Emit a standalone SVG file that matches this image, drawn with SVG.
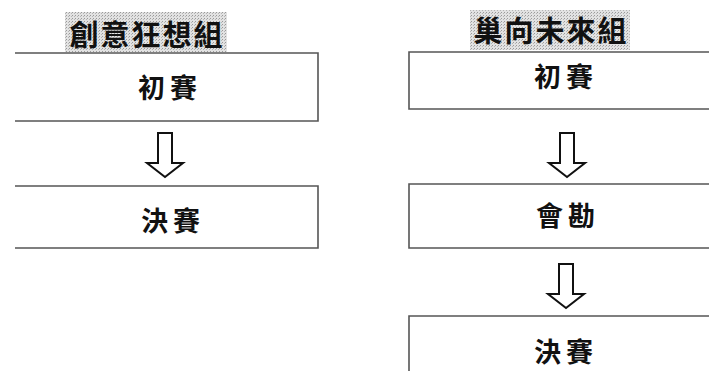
<svg xmlns="http://www.w3.org/2000/svg" width="709" height="371" viewBox="0 0 709 371">
<defs>
<pattern id="dots" width="3" height="3" patternUnits="userSpaceOnUse">
<rect width="3" height="3" fill="#e2e2e2"/>
<rect width="1" height="1" fill="#9a9a9a"/>
<rect x="2" y="1" width="1" height="1" fill="#b5b5b5"/>
</pattern>
<path id="arrow" d="M-7,0 H7 V30 H18 L0,44 L-18,30 H-7 Z"/>
</defs>
<style>
.box{fill:none;stroke:#555;stroke-width:1.6}
.title{fill:url(#dots)}
.t{font-family:"Noto Sans CJK TC","Noto Sans CJK SC",sans-serif;font-weight:bold;fill:#111;text-anchor:middle;dominant-baseline:central}
.tt{font-size:29px;letter-spacing:2px}
.tb{font-size:27px;letter-spacing:5px}
.arr{fill:#fff;stroke:#111;stroke-width:2;stroke-linejoin:miter}
</style>
<rect width="709" height="371" fill="#fff"/>
<g id="title-left">
<rect class="title" x="65" y="12" width="162" height="40"/>
<text class="t tt" x="147" y="33">創意狂想組</text>
</g>
<g id="title-right">
<rect class="title" x="470" y="10" width="160" height="40"/>
<text class="t tt" x="551" y="29">巢向未來組</text>
</g>
<g id="left-prelim">
<path class="box" d="M15,53 H318 V121 H15"/>
<text class="t tb" x="170" y="86">初賽</text>
</g>
<g id="left-final">
<path class="box" d="M15,186 H318 V248 H15"/>
<text class="t tb" x="173" y="219">決賽</text>
</g>
<g id="right-prelim">
<path class="box" d="M709,52 H409 V109 H709"/>
<text class="t tb" x="566" y="75">初賽</text>
</g>
<g id="right-survey">
<path class="box" d="M709,184 H409 V248 H709"/>
<text class="t tb" x="568" y="214">會勘</text>
</g>
<g id="right-final">
<path class="box" d="M709,316 H409 V372"/>
<text class="t tb" x="566" y="350">決賽</text>
</g>
<g id="connectors">
<use class="arr" href="#arrow" x="165" y="133"/>
<use class="arr" href="#arrow" x="567" y="133"/>
<use class="arr" href="#arrow" x="566" y="264"/>
</g>
</svg>
